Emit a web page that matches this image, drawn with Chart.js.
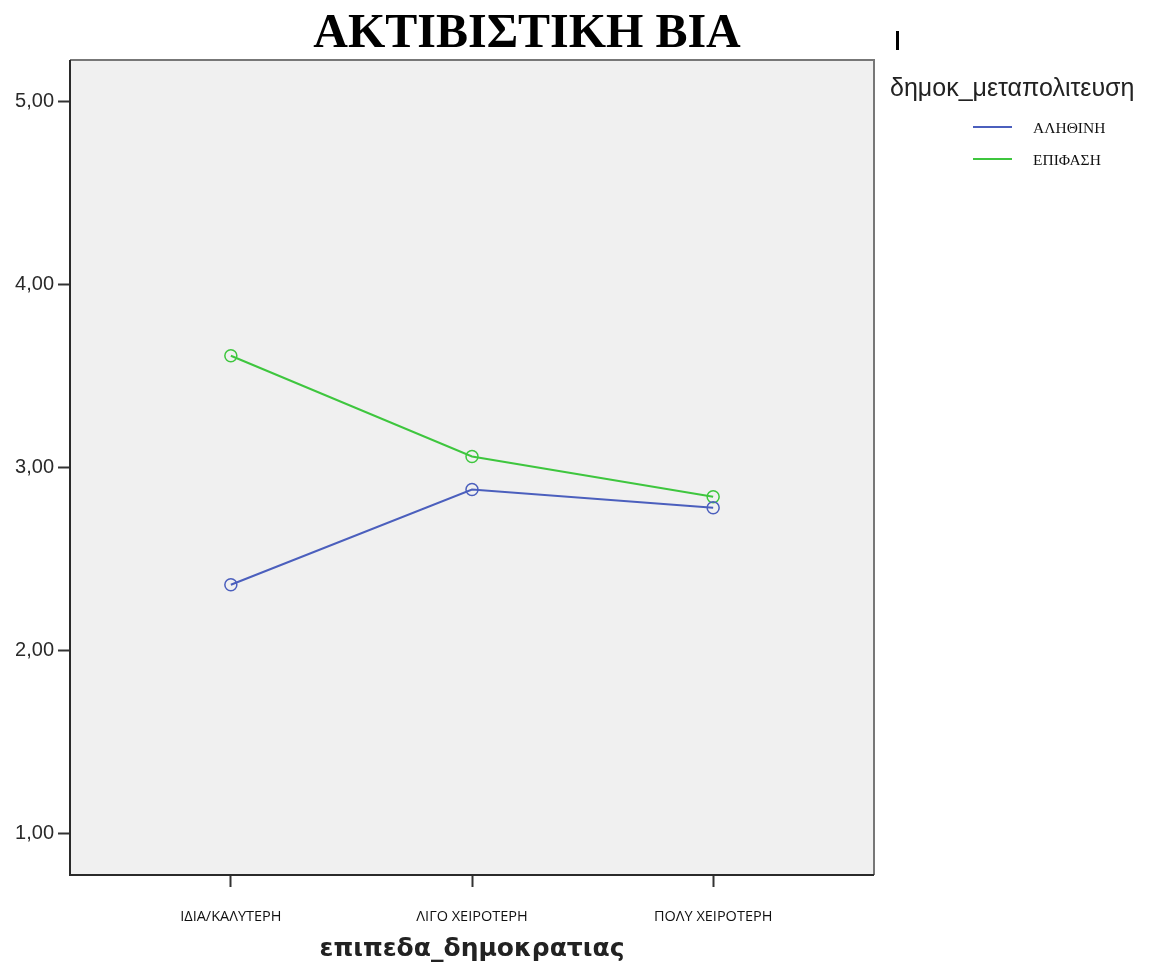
<!DOCTYPE html>
<html>
<head>
<meta charset="utf-8">
<script src="https://cdn.jsdelivr.net/npm/chart.js@4/dist/chart.umd.min.js"></script>
<style>
  html, body { margin: 0; padding: 0; background: #fff; }
  #wrap { width: 1158px; height: 968px; }
</style>
</head>
<body>
<div id="wrap"><canvas id="c" width="1158" height="968"></canvas></div>
<script>
// categories and series
const categories = ["ΙΔΙΑ/ΚΑΛΥΤΕΡΗ", "ΛΙΓΟ ΧΕΙΡΟΤΕΡΗ", "ΠΟΛΥ ΧΕΙΡΟΤΕΡΗ"];
const alithini = [2.36, 2.88, 2.78];
const epifasi = [3.61, 3.06, 2.84];
const yTicks = [1, 2, 3, 4, 5];

const chartTitle = "ΑΚΤΙΒΙΣΤΙΚΗ ΒΙΑ";
const legendTitle = "δημοκ_μεταπολιτευση";
const xTitle = "επιπεδα_δημοκρατιας";

const BLUE = "#4b5fbd";
const GREEN = "#3ec63e";

const toPoints = (vals) => vals.map((v, i) => ({ x: i, y: v }));

// plot background, frame, title, legend
const decor = {
  id: "decor",
  beforeDraw(chart) {
    const { ctx, chartArea: a } = chart;
    ctx.save();
    ctx.fillStyle = "#f0f0f0";
    ctx.fillRect(a.left, a.top, a.right - a.left, a.bottom - a.top);
    ctx.restore();
  },
  afterDraw(chart) {
    const { ctx, chartArea: a } = chart;
    ctx.save();
    // frame
    ctx.lineWidth = 2;
    ctx.strokeStyle = "#777";
    ctx.beginPath();
    ctx.moveTo(a.left, a.top);
    ctx.lineTo(a.right, a.top);
    ctx.lineTo(a.right, a.bottom);
    ctx.stroke();
    ctx.strokeStyle = "#2a2a2a";
    ctx.beginPath();
    ctx.moveTo(a.left, a.top);
    ctx.lineTo(a.left, a.bottom);
    ctx.lineTo(a.right, a.bottom);
    ctx.stroke();

    // title
    ctx.fillStyle = "#000";
    ctx.font = "bold 48px 'Liberation Serif', 'DejaVu Serif', serif";
    ctx.textAlign = "center";
    ctx.textBaseline = "alphabetic";
    ctx.fillText(chartTitle, 527, 47);

    // stray mark
    ctx.fillRect(896, 31, 3, 19);

    // legend
    ctx.textAlign = "left";
    ctx.textBaseline = "middle";
    ctx.fillStyle = "#222";
    ctx.font = "25px 'Liberation Sans', Arial, sans-serif";
    ctx.fillText(legendTitle, 890, 89);
    ctx.font = "15.5px 'Liberation Serif', serif";
    chart.data.datasets.forEach((ds, i) => {
      const y = 127 + i * 32;
      ctx.strokeStyle = ds.borderColor;
      ctx.lineWidth = 2;
      ctx.beginPath();
      ctx.moveTo(973, y);
      ctx.lineTo(1012, y);
      ctx.stroke();
      ctx.fillStyle = "#111";
      ctx.fillText(ds.label, 1033, y + 2);
    });
    ctx.restore();
  }
};

new Chart(document.getElementById("c"), {
  type: "line",
  data: {
    datasets: [
      {
        label: "ΑΛΗΘΙΝΗ",
        data: toPoints(alithini),
        borderColor: BLUE,
        backgroundColor: "rgba(0,0,0,0)",
        pointBorderColor: BLUE,
        pointBackgroundColor: "rgba(0,0,0,0)",
        borderWidth: 2,
        pointRadius: 6,
        pointBorderWidth: 1.5,
        tension: 0
      },
      {
        label: "ΕΠΙΦΑΣΗ",
        data: toPoints(epifasi),
        borderColor: GREEN,
        backgroundColor: "rgba(0,0,0,0)",
        pointBorderColor: GREEN,
        pointBackgroundColor: "rgba(0,0,0,0)",
        borderWidth: 2,
        pointRadius: 6,
        pointBorderWidth: 1.5,
        tension: 0
      }
    ]
  },
  options: {
    responsive: false,
    animation: false,
    devicePixelRatio: 1,
    layout: { padding: { left: 0, top: 60, right: 284, bottom: 0 } },
    plugins: {
      legend: { display: false },
      title: { display: false },
      tooltip: { enabled: false }
    },
    scales: {
      x: {
        type: "linear",
        min: -0.667,
        max: 2.667,
        afterBuildTicks: (s) => { s.ticks = categories.map((c, i) => ({ value: i })); },
        afterFit: (s) => { s.height = 93; },
        border: { display: false },
        grid: {
          drawOnChartArea: false,
          drawTicks: true,
          tickLength: 12,
          tickWidth: 2,
          tickColor: "#333"
        },
        ticks: {
          padding: 21,
          maxRotation: 0,
          color: "#111",
          font: { family: "'Liberation Sans Narrow', 'Open Sans', sans-serif", size: 14.5 },
          callback: (v) => categories[v]
        },
        title: {
          display: true,
          text: xTitle,
          color: "#222",
          padding: { top: 12 },
          font: { family: "'DejaVu Sans', sans-serif", size: 25, weight: "bold" }
        }
      },
      y: {
        min: 0.776,
        max: 5.224,
        afterBuildTicks: (s) => { s.ticks = yTicks.map((v) => ({ value: v })); },
        afterFit: (s) => { s.width = 70; },
        border: { display: false },
        grid: {
          drawOnChartArea: false,
          drawTicks: true,
          tickLength: 12,
          tickWidth: 2,
          tickColor: "#333"
        },
        ticks: {
          padding: 4,
          color: "#2a2a2a",
          font: { family: "'Liberation Sans', Arial, sans-serif", size: 20 },
          callback: (v) => v.toFixed(2).replace(".", ",")
        }
      }
    }
  },
  plugins: [decor]
});
</script>
</body>
</html>
